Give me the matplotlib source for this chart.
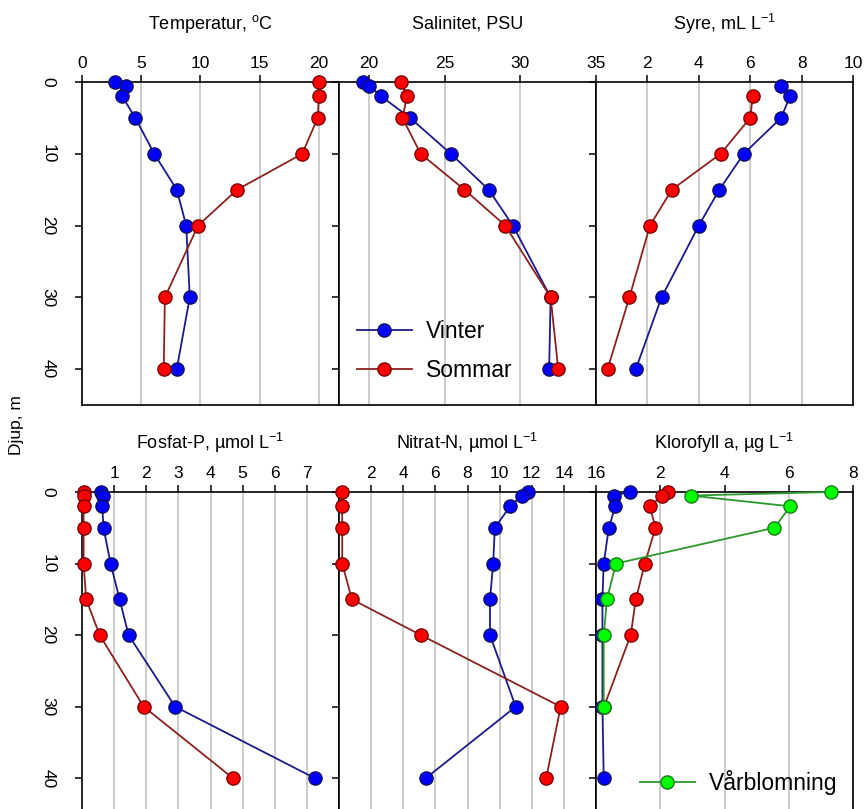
import numpy as np
import matplotlib
matplotlib.use('Agg')
import matplotlib.pyplot as plt

plt.rcParams['font.family'] = ['Liberation Sans', 'DejaVu Sans']
plt.rcParams['mathtext.fontset'] = 'custom'
plt.rcParams['mathtext.rm'] = 'Liberation Sans'

# depth grid (m), NaN = no sample at that depth
depth = np.array([0, 0.5, 2, 5, 10, 15, 20, 30, 40])
nan = np.nan

temp_vinter = [2.8, 3.7, 3.4, 4.5, 6.1, 8.0, 8.8, 9.1, 8.0]
temp_sommar = [20.0, nan, 20.0, 19.9, 18.6, 13.1, 9.8, 7.0, 6.9]
sal_vinter = [19.6, 20.0, 20.8, 22.7, 25.4, 27.9, 29.5, 32.0, 31.9]
sal_sommar = [22.1, nan, 22.5, 22.2, 23.4, 26.3, 29.0, 32.0, 32.5]
syre_vinter = [nan, 7.2, 7.55, 7.2, 5.75, 4.8, 4.0, 2.55, 1.55]
syre_sommar = [nan, nan, 6.1, 6.0, 4.85, 2.95, 2.1, 1.3, 0.45]
fosfat_vinter = [0.6, 0.65, 0.63, 0.67, 0.89, 1.17, 1.45, 2.9, 7.25]
fosfat_sommar = [0.05, 0.05, 0.05, 0.05, 0.05, 0.13, 0.55, 1.92, 4.7]
nitrat_vinter = [11.75, 11.4, 10.65, 9.7, 9.6, 9.4, 9.4, 11.0, 5.4]
nitrat_sommar = [0.2, nan, 0.2, 0.2, 0.2, 0.8, 5.1, 13.8, 12.9]
klor_vinter = [1.05, 0.55, 0.6, 0.4, 0.24, 0.2, 0.2, 0.2, 0.24]
klor_sommar = [2.25, 2.05, 1.68, 1.85, 1.52, 1.24, 1.08, 0.25, nan]
klor_varblomning = [7.3, 2.95, 6.05, 5.55, 0.62, 0.34, 0.24, 0.24, nan]

titles = [r'Temperatur, $\mathregular{^{o}}$C', 'Salinitet, PSU', r'Syre, mL L$\mathregular{^{-1}}$',
          r'Fosfat-P, µmol L$\mathregular{^{-1}}$', r'Nitrat-N, µmol L$\mathregular{^{-1}}$',
          r'Klorofyll a, µg L$\mathregular{^{-1}}$']
xlims = [(0, 21.7), (18, 35), (0, 10), (0, 8), (0, 16), (0, 8)]
xticks = [[0, 5, 10, 15, 20], [20, 25, 30, 35], [2, 4, 6, 8, 10],
          [1, 2, 3, 4, 5, 6, 7], [2, 4, 6, 8, 10, 12, 14, 16], [2, 4, 6, 8]]
yticks = [0, 10, 20, 30, 40]

W, H = 866, 809
fig = plt.figure(figsize=(W / 100, H / 100), dpi=100)

left, pw = 82, 257
rows = [(82, 405), (492, 814)]   # top, bottom in pixels
title_y = [24, 443]

BLUE = dict(color='#1a1a8a', mfc='#0000ff', mec='#10105a')
RED = dict(color='#8b2222', mfc='#ff0000', mec='#7a0000')
GREEN = dict(color='#2a9a2a', mfc='#00ff00', mec='#1a7a1a')


def profile(ax, vals, style, label=None):
    v = np.array(vals, float)
    ok = ~np.isnan(v)
    ax.plot(v[ok], depth[ok], '-o', ms=9.5, lw=1.3, mew=1.0, clip_on=False,
            zorder=3, label=label, **style)


axes = []
for r, (top, bot) in enumerate(rows):
    for c in range(3):
        i = r * 3 + c
        x0 = left + c * pw
        ax = fig.add_axes([x0 / W, 1 - bot / H, pw / W, (bot - top) / H])
        ax.set_xlim(*xlims[i])
        ax.set_ylim(45, 0)
        ax.xaxis.tick_top()
        ax.set_xticks(xticks[i])
        ax.set_yticks(yticks)
        ax.tick_params(axis='x', direction='out', length=5, width=1.1, pad=3,
                       labelsize=12.5)
        ax.tick_params(axis='y', direction='out', length=5, width=1.1, pad=14,
                       labelsize=12.5, labelrotation=-90, labelleft=(c == 0))
        for lab in ax.get_yticklabels():
            lab.set_va('center')
        ax.grid(axis='x', color='#c4c4c4', lw=1.2)
        ax.set_axisbelow(True)
        for s in ax.spines.values():
            s.set_linewidth(1.2)
        fig.text((x0 + pw / 2) / W, 1 - title_y[r] / H, titles[i],
                 ha='center', va='center', fontsize=13)
        axes.append(ax)

profile(axes[0], temp_vinter, BLUE)
profile(axes[0], temp_sommar, RED)
profile(axes[1], sal_vinter, BLUE, 'Vinter')
profile(axes[1], sal_sommar, RED, 'Sommar')
profile(axes[2], syre_vinter, BLUE)
profile(axes[2], syre_sommar, RED)
profile(axes[3], fosfat_vinter, BLUE)
profile(axes[3], fosfat_sommar, RED)
profile(axes[4], nitrat_vinter, BLUE)
profile(axes[4], nitrat_sommar, RED)
profile(axes[5], klor_vinter, BLUE)
profile(axes[5], klor_sommar, RED)
profile(axes[5], klor_varblomning, GREEN, 'Vårblomning')

axes[1].legend(loc='lower left', bbox_to_anchor=(0.07, 0.07), frameon=False,
               fontsize=16.5, handlelength=2.4, handletextpad=0.6,
               labelspacing=0.7, borderpad=0, borderaxespad=0)
axes[5].legend(loc='lower left', bbox_to_anchor=(0.17, 0.06), frameon=False,
               fontsize=16.5, handlelength=2.4, handletextpad=0.6,
               borderpad=0, borderaxespad=0)

fig.text(16 / W, 1 - 425 / H, 'Djup, m', rotation=90, ha='center',
         va='center', fontsize=12.5)

fig.savefig('out.png', dpi=100)
